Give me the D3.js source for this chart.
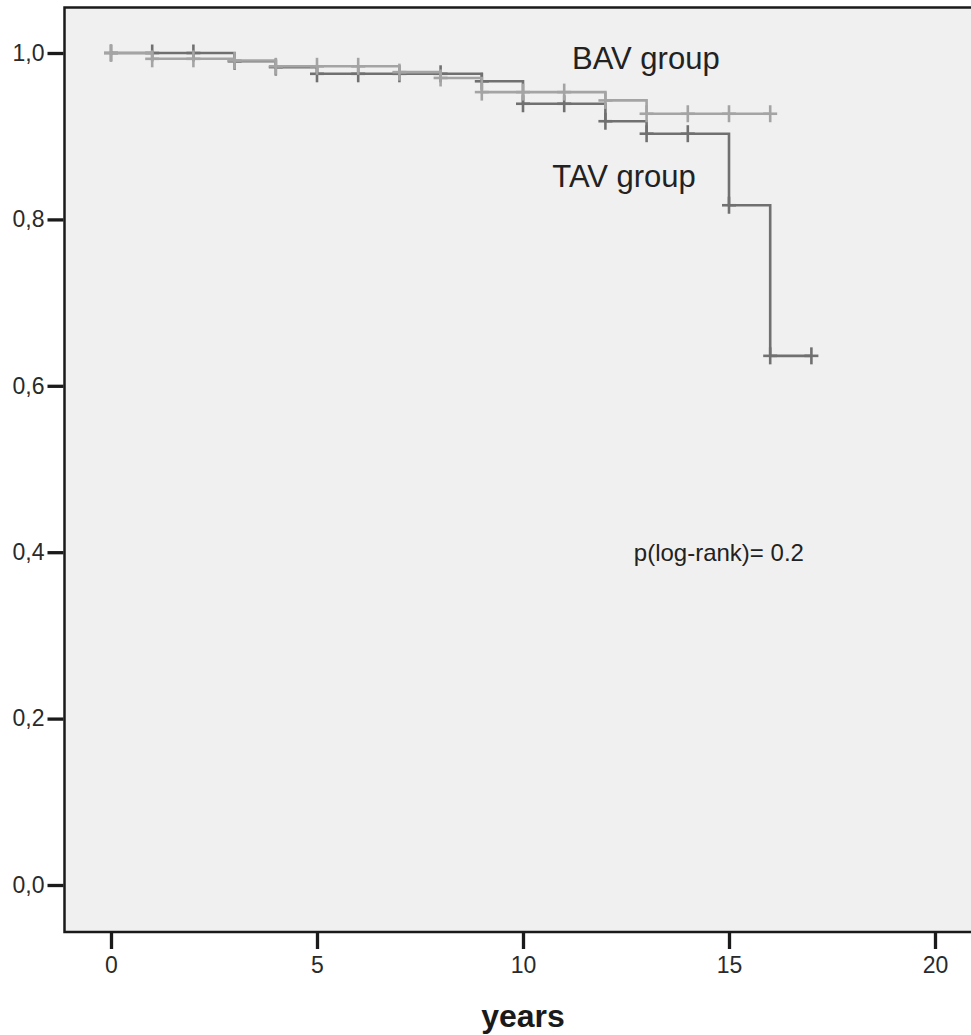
<!DOCTYPE html>
<html>
<head>
<meta charset="utf-8">
<script src="https://cdn.jsdelivr.net/npm/d3@7"></script>
<style>
  html, body { margin: 0; padding: 0; background: #ffffff; }
  svg { display: block; font-family: "Liberation Sans", Arial, Helvetica, sans-serif; }
</style>
</head>
<body>
<svg id="chart" width="971" height="1035"></svg>
<script>
// ---- Data ----
const xTicks = [0, 5, 10, 15, 20];
const yTicks = [0, 0.2, 0.4, 0.6, 0.8, 1.0];

// BAV group: step times (years) and survival after each step
const bavTimes = [0, 1, 3, 4, 7, 8, 9, 12, 13];
const bavSurv  = [1.0, 0.993, 0.991, 0.984, 0.977, 0.970, 0.953, 0.943, 0.927];
const bavEnd = 16;
const bavCensor = [0, 1, 2, 3, 4, 5, 6, 7, 8, 9, 10, 11, 12, 13, 14, 15, 16];

// TAV group
const tavTimes = [0, 3, 4, 5, 9, 10, 12, 13, 15, 16];
const tavSurv  = [1.0, 0.990, 0.983, 0.975, 0.966, 0.939, 0.918, 0.903, 0.817, 0.636];
const tavEnd = 17;
const tavCensor = [0, 1, 2, 3, 4, 5, 6, 7, 8, 9, 10, 11, 12, 13, 14, 15, 16, 17];

const labels = [
  { text: "BAV group", t: 11.19, s: 0.981, size: 31 },
  { text: "TAV group", t: 10.71, s: 0.839, size: 31 },
  { text: "p(log-rank)= 0.2", t: 12.69, s: 0.389, size: 24 }
];

// ---- Layout ----
const svg = d3.select("#chart");
const frame = { left: 64.5, top: 7.5, right: 985, bottom: 932 };
const x = d3.scaleLinear().domain([0, 20]).range([111, 935]);
const y = d3.scaleLinear().domain([0, 1]).range([885, 53]);

svg.append("rect")
  .attr("x", frame.left).attr("y", frame.top)
  .attr("width", frame.right - frame.left).attr("height", frame.bottom - frame.top)
  .attr("fill", "#f0f0f0").attr("stroke", "#1a1a1a").attr("stroke-width", 2.5);

// axes
const yAxis = d3.axisLeft(y).tickValues(yTicks).tickSize(16).tickPadding(3)
  .tickFormat(d => d3.format(".1f")(d).replace(".", ","));
const gy = svg.append("g").attr("transform", `translate(${frame.left - 1},0)`).call(yAxis);
gy.select(".domain").remove();
gy.selectAll(".tick line").attr("stroke", "#1a1a1a").attr("stroke-width", 3.3);
gy.selectAll(".tick text").attr("font-size", 23).attr("fill", "#2a2a2a")
  .attr("font-family", "'Liberation Sans', Arial, sans-serif");

const xAxis = d3.axisBottom(x).tickValues(xTicks).tickSize(16).tickPadding(8)
  .tickFormat(d3.format("d"));
const gx = svg.append("g").attr("transform", `translate(0,${frame.bottom + 1})`).call(xAxis);
gx.select(".domain").remove();
gx.selectAll(".tick line").attr("stroke", "#1a1a1a").attr("stroke-width", 3.3);
gx.selectAll(".tick text").attr("font-size", 23).attr("fill", "#2a2a2a")
  .attr("font-family", "'Liberation Sans', Arial, sans-serif");

svg.append("text")
  .attr("x", 523).attr("y", 1027)
  .attr("text-anchor", "middle")
  .attr("font-size", 32).attr("font-weight", "bold").attr("fill", "#1a1a1a")
  .text("years");

// ---- curves ----
function survAt(times, surv, t) {
  let s = surv[0];
  for (let i = 0; i < times.length; i++) if (times[i] <= t) s = surv[i];
  return s;
}

const line = d3.line().x(d => x(d[0])).y(d => y(d[1])).curve(d3.curveStepAfter);

function drawGroup(times, surv, end, censor, color) {
  const pts = times.map((t, i) => [t, surv[i]]);
  pts.push([end, surv[surv.length - 1]]);
  const g = svg.append("g");
  g.append("path").datum(pts).attr("d", line)
    .attr("fill", "none").attr("stroke", color).attr("stroke-width", 2.6);
  censor.forEach(t => {
    const cx = x(t), cy = y(survAt(times, surv, t));
    g.append("line").attr("x1", cx - 7).attr("x2", cx + 7).attr("y1", cy).attr("y2", cy)
      .attr("stroke", color).attr("stroke-width", 2.6);
    g.append("line").attr("x1", cx).attr("x2", cx).attr("y1", cy - 8.5).attr("y2", cy + 8.5)
      .attr("stroke", color).attr("stroke-width", 2.6);
  });
}

drawGroup(tavTimes, tavSurv, tavEnd, tavCensor, "#707070");
drawGroup(bavTimes, bavSurv, bavEnd, bavCensor, "#a4a4a4");

// ---- annotations ----
labels.forEach(l => {
  svg.append("text")
    .attr("x", x(l.t)).attr("y", y(l.s))
    .attr("font-size", l.size).attr("fill", "#222")
    .text(l.text);
});
</script>
</body>
</html>
